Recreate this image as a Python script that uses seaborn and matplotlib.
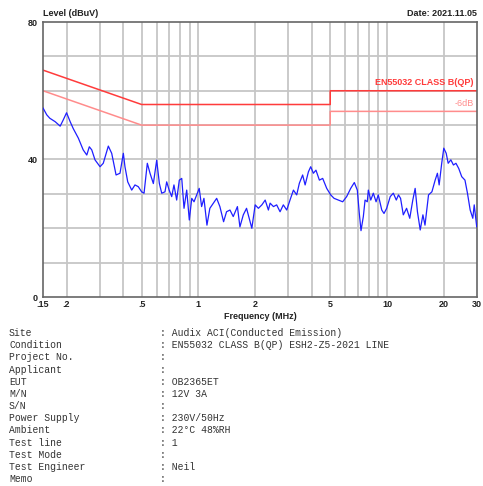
import matplotlib
matplotlib.use("Agg")
import matplotlib.pyplot as plt
import seaborn as sns
import pandas as pd
import numpy as np

# ---- data ----
freq_mhz = [0.150, 0.157, 0.163, 0.174, 0.185, 0.192, 0.200, 0.209, 0.217, 0.231,
            0.245, 0.256, 0.264, 0.272, 0.283, 0.301, 0.313, 0.333, 0.347, 0.366,
            0.384, 0.400, 0.408, 0.422, 0.443, 0.461, 0.480, 0.500, 0.515, 0.536,
            0.554, 0.577, 0.601, 0.621, 0.639, 0.665, 0.679, 0.700, 0.722, 0.742,
            0.767, 0.792, 0.816, 0.839, 0.867, 0.895, 0.922, 0.948, 0.980, 1.01,
            1.04, 1.07, 1.11, 1.15, 1.20, 1.25, 1.30, 1.36, 1.41, 1.47,
            1.53, 1.61, 1.66, 1.73, 1.80, 1.92, 2.00, 2.08, 2.17, 2.26,
            2.35, 2.40, 2.50, 2.60, 2.71, 2.82, 2.94, 3.06, 3.19, 3.32,
            3.43, 3.57, 3.68, 3.83, 3.94, 4.07, 4.20, 4.38, 4.56, 4.79,
            5.03, 5.24, 5.52, 5.82, 6.11, 6.42, 6.71, 6.96, 7.13, 7.28,
            7.49, 7.65, 7.86, 7.96, 8.20, 8.46, 8.75, 8.99, 9.38, 9.64,
            9.96, 10.4, 10.8, 11.2, 11.5, 11.8, 12.2, 12.7, 13.2, 13.7,
            14.1, 14.5, 15.0, 15.5, 15.9, 16.6, 17.3, 18.0, 18.5, 18.9,
            19.5, 20.0, 20.6, 21.1, 21.8, 22.5, 23.2, 24.0, 24.9, 25.9,
            26.7, 27.6, 28.5, 29.0, 29.9]
level_dbuv = [55.0, 53.0, 52.0, 51.0, 49.7, 51.5, 53.6, 51.0, 49.0, 46.2,
              42.8, 41.3, 43.7, 42.8, 39.9, 37.9, 38.9, 43.9, 41.8, 35.5,
              36.0, 41.8, 37.9, 33.5, 31.1, 32.6, 32.1, 30.6, 30.2, 38.9,
              36.0, 33.0, 39.8, 33.0, 30.2, 30.6, 33.5, 31.1, 29.2, 32.6,
              28.2, 34.0, 34.5, 25.8, 31.1, 22.4, 28.7, 27.7, 29.7, 31.6,
              26.3, 28.7, 20.9, 25.8, 27.3, 28.7, 26.3, 21.9, 24.8, 25.3,
              23.4, 26.3, 20.4, 23.9, 25.8, 20.0, 26.8, 25.8, 26.8, 28.2,
              25.3, 27.3, 26.3, 26.8, 24.8, 26.8, 25.3, 28.2, 31.1, 29.7,
              33.1, 35.5, 32.6, 36.4, 37.9, 36.0, 36.9, 34.0, 34.5, 31.6,
              29.7, 28.7, 28.2, 27.7, 29.2, 31.6, 33.3, 31.1, 24.3, 19.3,
              23.4, 28.2, 27.7, 31.1, 28.2, 30.2, 27.7, 29.7, 25.3, 24.3,
              25.8, 29.2, 30.2, 28.2, 29.7, 28.7, 23.9, 25.8, 22.9, 28.2,
              31.6, 24.8, 19.5, 23.9, 20.9, 29.7, 30.6, 34.0, 36.0, 32.6,
              38.9, 43.3, 41.8, 38.9, 39.9, 38.4, 38.9, 37.4, 35.0, 34.0,
              30.2, 25.3, 22.9, 26.8, 20.4]

limit_freq = [0.15, 0.5, 5, 5, 30]
limit_qp = [66, 56, 56, 60, 60]
limit_qp_6db = [60, 50, 50, 54, 54]

xtick_vals = [0.15, 0.2, 0.5, 1, 2, 5, 10, 20, 30]
xtick_labels = [".15", ".2", ".5", "1", "2", "5", "10", "20", "30"]
xgrid_vals = [0.2, 0.3, 0.4, 0.5, 0.6, 0.7, 0.8, 0.9, 1, 2, 3, 4, 5, 6, 7, 8, 9, 10, 20]
ytick_vals = [0, 40, 80]

info_labels = ["Site", "Condition", "Project No.", "Applicant", "EUT", "M/N", "S/N",
               "Power Supply", "Ambient", "Test line", "Test Mode", "Test Engineer", "Memo"]
info_values = ["Audix ACI(Conducted Emission)", "EN55032 CLASS B(QP) ESH2-Z5-2021 LINE",
               "", "", "OB2365ET", "12V 3A", "", "230V/50Hz", "22\u00b0C 48%RH", "1", "",
               "Neil", ""]

# ---- plot ----
sns.set_style("white")
plt.rcParams['font.family'] = ['Liberation Sans', 'DejaVu Sans']

W, H = 483, 486
fig = plt.figure(figsize=(W / 100, H / 100), dpi=100)
ax = fig.add_axes([43 / W, 1 - 297 / H, (477 - 43) / W, (297 - 22) / H])

ax.set_xscale('log')
ax.set_xlim(0.15, 30)
ax.set_ylim(0, 80)

for v in xgrid_vals:
    ax.axvline(v, color='#c6c6c6', lw=1.3, zorder=0)
for v in range(10, 80, 10):
    ax.axhline(v, color='#c6c6c6', lw=1.3, zorder=0)

lim_df = pd.DataFrame({"f": limit_freq, "qp": limit_qp, "qp6": limit_qp_6db})
sns.lineplot(data=lim_df, x="f", y="qp", ax=ax, color='#ff3b3b', lw=1.1,
             estimator=None, sort=False, zorder=2)
sns.lineplot(data=lim_df, x="f", y="qp6", ax=ax, color='#ff8c8c', lw=1.1,
             estimator=None, sort=False, zorder=2)

meas_df = pd.DataFrame({"f": freq_mhz, "level": level_dbuv})
sns.lineplot(data=meas_df, x="f", y="level", ax=ax, color='#1f1fff', lw=0.9,
             estimator=None, sort=False, zorder=3)

ax.set_xticks(xtick_vals)
ax.set_xticklabels(xtick_labels)
ax.xaxis.set_minor_locator(matplotlib.ticker.NullLocator())
ax.set_yticks(ytick_vals)
ax.set_yticklabels([str(v) for v in ytick_vals])
ax.tick_params(axis='both', length=0, labelsize=6.5, pad=2, colors='#222222')
for lab in ax.get_xticklabels() + ax.get_yticklabels():
    lab.set_fontweight('bold')
ax.tick_params(axis='y', pad=4)
ax.set_xlabel("Frequency (MHz)", fontsize=6.5, fontweight='bold', color='#222222', labelpad=2)
ax.set_ylabel("")
for s in ax.spines.values():
    s.set_color('#666666')
    s.set_linewidth(1.2)

fig.text(43 / W, 1 - 14 / H, "Level (dBuV)", fontsize=6.5, fontweight='bold',
         color='#222222', ha='left', va='center')
fig.text(477 / W, 1 - 14 / H, "Date: 2021.11.05", fontsize=6.5, fontweight='bold',
         color='#222222', ha='right', va='center')

ax.text(0.992, 61.2, "EN55032 CLASS B(QP)", transform=ax.get_yaxis_transform(),
        fontsize=6.5, fontweight='bold', color='#ff3b3b', ha='right', va='bottom')
ax.text(0.992, 55.0, "-6dB", transform=ax.get_yaxis_transform(),
        fontsize=6.5, color='#ff8c8c', ha='right', va='bottom')

mono = ['Liberation Mono', 'DejaVu Sans Mono']
for i, (lab, val) in enumerate(zip(info_labels, info_values)):
    y = 1 - (333 + i * 12.17) / H
    fig.text(9 / W, y, lab, fontsize=7, family=mono, color='#333333', ha='left', va='center')
    fig.text(160 / W, y, (": " + val) if val else ":", fontsize=7, family=mono,
             color='#333333', ha='left', va='center')

fig.savefig("out.png", dpi=100)
